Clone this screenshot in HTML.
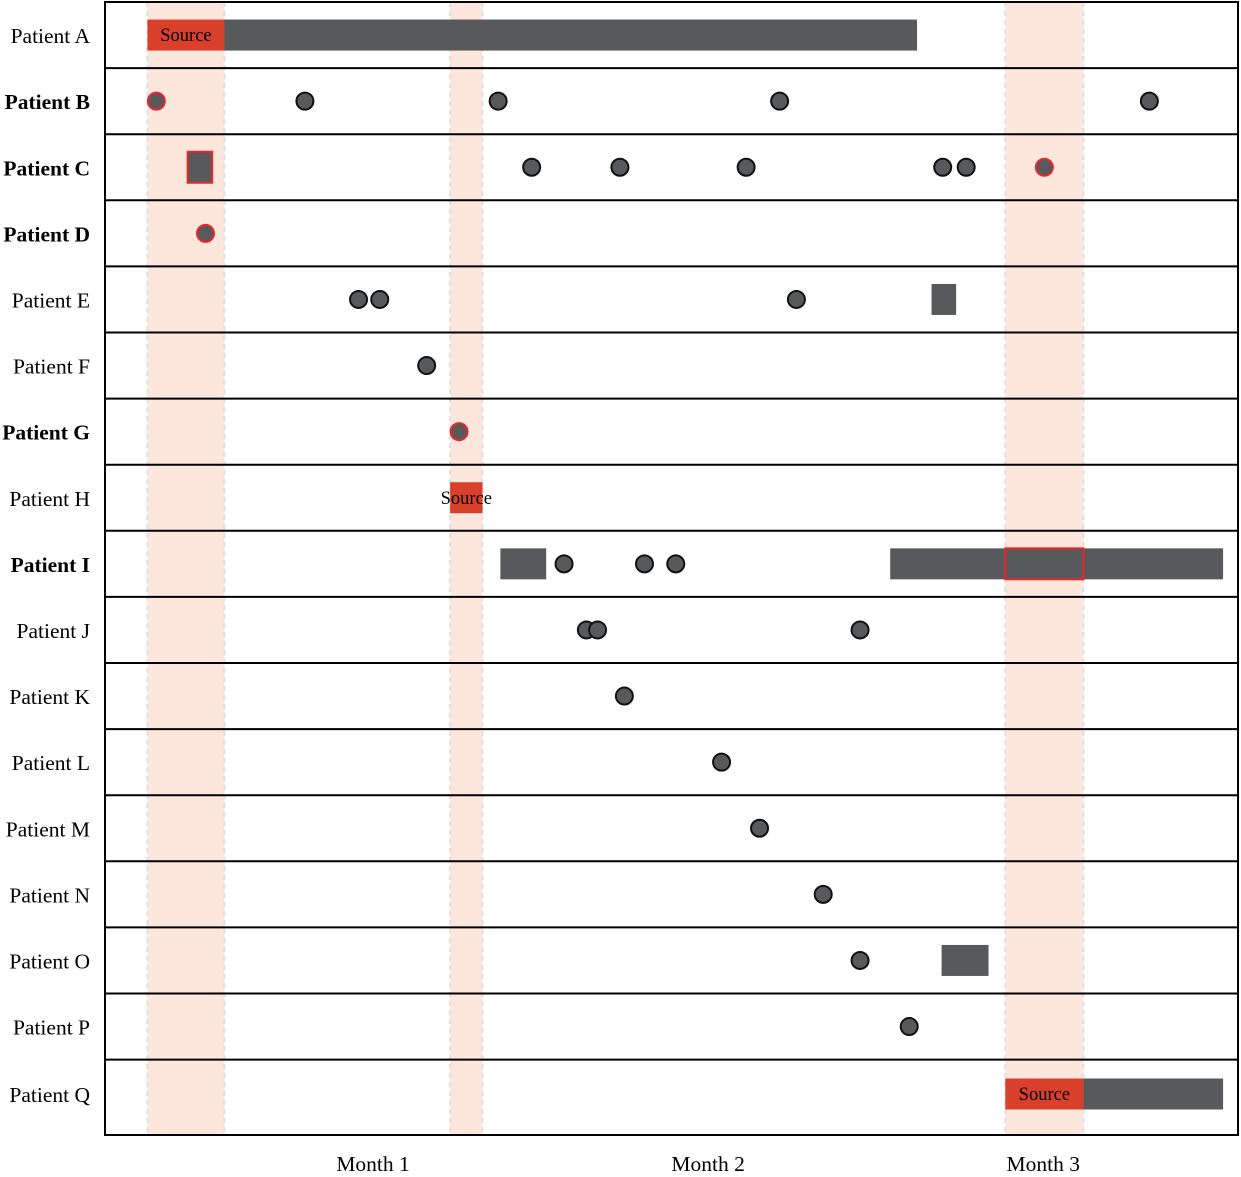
<!DOCTYPE html>
<html><head><meta charset="utf-8"><style>
html,body{margin:0;padding:0;background:#fff;}
svg{display:block;font-family:"Liberation Serif",serif;}
</style></head><body>
<svg id="chart" width="1241" height="1177"></svg>
<script>
const patients=["Patient A","Patient B","Patient C","Patient D","Patient E","Patient F","Patient G","Patient H","Patient I","Patient J","Patient K","Patient L","Patient M","Patient N","Patient O","Patient P","Patient Q"];
const boldRows=[1,2,3,6,8];
const monthLabels=["Month 1","Month 2","Month 3"];
const monthDays=[15,45,75];
const bands=[[-5.2,1.7],[21.9,24.8],[71.6,78.6]];
// points: [row, day, isSource]
const points=[[1,-4.4,1],[1,8.9,0],[1,26.2,0],[1,51.4,0],[1,84.5,0],
[2,29.2,0],[2,37.1,0],[2,48.4,0],[2,66.0,0],[2,68.1,0],[2,75.1,1],
[3,0.0,1],
[4,13.7,0],[4,15.6,0],[4,52.9,0],
[5,19.8,0],[6,22.7,1],
[8,32.1,0],[8,39.3,0],[8,42.1,0],
[9,34.1,0],[9,35.1,0],[9,58.6,0],
[10,37.5,0],[11,46.2,0],[12,49.6,0],[13,55.3,0],[14,58.6,0],[15,63.0,0]];
// bars: [row, start, end]
const bars=[[0,1.7,63.7],[2,-1.6,0.6],[4,65.0,67.2],[8,26.4,30.5],[8,61.3,91.1],[14,65.9,70.1],[16,78.6,91.1]];
// source boxes: [row, start, end, labeled]
const sources=[[0,-5.2,1.7,1],[7,21.9,24.8,1],[16,71.6,78.6,1],[2,-1.6,0.6,0],[8,71.6,78.6,0]];

const svg=document.getElementById('chart');
const NS="http://www.w3.org/2000/svg";
const L=105,R=1238,T=2,B=1135,rh=66.1;
const x=d=>205.5+d*11.17;
const rowTop=r=>T+rh*r;
const rowBot=r=>r>=16?B:T+rh*(r+1);
const yc=r=>r>=16?1094:(rowTop(r)+rowBot(r))/2;
function el(tag,attrs,parent){const e=document.createElementNS(NS,tag);for(const k in attrs)e.setAttribute(k,attrs[k]);(parent||svg).appendChild(e);return e;}

bands.forEach((b,i)=>{
  const r=el('rect',{x:x(b[0]),y:T,width:x(b[1])-x(b[0]),height:B-T,fill:'#fde6dc'});
  
  
  [b[0],b[1]].forEach(v=>{el('line',{x1:x(v),x2:x(v),y1:T,y2:B,stroke:'#e0e0e0','stroke-width':2,'stroke-dasharray':'5,4'});});
});
for(let i=1;i<17;i++){
  const ln=el('line',{x1:L,x2:R,y1:rowTop(i),y2:rowTop(i),stroke:'#000','stroke-width':2});
  
  
}
const border=el('rect',{x:L,y:T,width:R-L,height:B-T,fill:'none',stroke:'#000','stroke-width':2});



patients.forEach((p,i)=>{
  const t=el('text',{x:90,y:yc(i)+8,'text-anchor':'end','font-size':21.5,'font-weight':boldRows.includes(i)?'bold':'normal',fill:'#000'});
  t.textContent=p;
  
  
});
monthLabels.forEach((m,i)=>{
  const t=el('text',{x:x(monthDays[i]),y:1171,'text-anchor':'middle','font-size':21.5,fill:'#000'});
  t.textContent=m;
  
  
});
bars.forEach(b=>{
  const r=el('rect',{x:x(b[1]),y:yc(b[0])-15.5,width:x(b[2])-x(b[1]),height:31,fill:'#58595b'});
  
  
});
sources.forEach(s=>{
  if(s[3]){
    const r=el('rect',{x:x(s[1]),y:yc(s[0])-15.5,width:x(s[2])-x(s[1]),height:31,fill:'#d9402c'});
    
    
    const t=el('text',{x:(x(s[1])+x(s[2]))/2,y:yc(s[0])+6,'text-anchor':'middle','font-size':18.5,fill:'#000'});
    t.textContent='Source';
    
    
  } else {
    const r=el('rect',{x:x(s[1]),y:yc(s[0])-15.5,width:x(s[2])-x(s[1]),height:31,fill:'none',stroke:'#e8262b','stroke-width':2});
    
    
  }
});
points.forEach(p=>{
  const c=el('circle',{cx:x(p[1]),cy:yc(p[0]),r:8.5,fill:'#58595b',stroke:p[2]?'#e8262b':'#111','stroke-width':2});
  
  
});
</script>
</body></html>
